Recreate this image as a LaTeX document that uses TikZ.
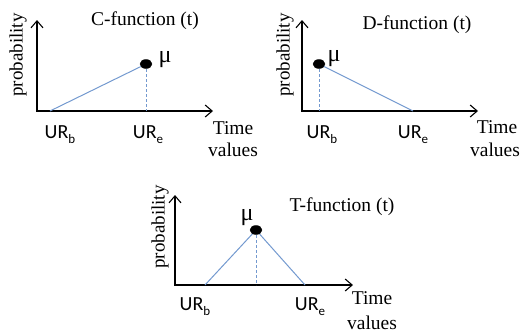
\documentclass[tikz,border=0pt]{standalone}
\usepackage{fontspec}
\setmainfont{Liberation Serif}
\newfontfamily\urfont{Carlito}
\usetikzlibrary{arrows.meta,shapes.geometric}
\definecolor{fnblue}{HTML}{7399CF}
\tikzset{
  axis/.style={line width=1.3pt,{Straight Barb[length=7pt,width=12pt,line width=1.1pt]}-{Straight Barb[length=7pt,width=12pt,line width=1.1pt]}},
  fn/.style={line width=1pt,draw=fnblue},
  drop/.style={line width=1pt,draw=fnblue,dash pattern=on 3pt off 2pt},
  peak/.style={ellipse,fill=black,draw=black,minimum width=12pt,minimum height=9pt,inner sep=0pt},
  ttl/.style={font=\fontsize{19.5}{19.5}\selectfont,inner sep=0pt},
  ylab/.style={font=\fontsize{19}{19}\selectfont,rotate=90,inner sep=0pt},
  mulab/.style={font=\fontsize{24}{24}\selectfont,inner sep=0pt},
  urlab/.style={font=\urfont\fontsize{20}{20}\selectfont,inner sep=0pt},
  tv/.style={font=\fontsize{19.5}{19.5}\selectfont,inner sep=0pt}
}
\newcommand{\urtxt}[1]{UR\raisebox{-0.25em}{\fontsize{13}{13}\selectfont #1}}
\begin{document}
\begin{tikzpicture}[x=1pt,y=-1pt]
\useasboundingbox (0,0) rectangle (520,335);
% ---------- C panel ----------
\coordinate (cO) at (37,111);
\coordinate (cY) at (37,20);
\coordinate (cX) at (213,111);
\coordinate (cB) at (50,111);
\coordinate (cF) at (146,111);
\coordinate (cPk) at (146,64);
\draw[axis] (cY) -- (cO) -- (cX);
\draw[fn] (cB) -- (cPk);
\draw[drop] (cPk) -- (cF);
\node[peak] (cP) at (cPk) {};
\node[mulab] (cmu) at (165,60) {μ};
\node[ttl] (ct) at (145,21) {C-function (t)};
\node[ylab] (cy) at (18,55) {probability};
\node[urlab] (cub) at (60,135) {\urtxt{b}};
\node[urlab] (cue) at (148,135) {\urtxt{e}};
\node[tv] (ctime) at (233,128) {Time};
\node[tv] (cval) at (233,150) {values};
% ---------- D panel ----------
\coordinate (dO) at (302,111);
\coordinate (dY) at (302,20);
\coordinate (dX) at (478,111);
\coordinate (dB) at (413,111);
\coordinate (dF) at (319,111);
\coordinate (dPk) at (319,64);
\draw[axis] (dY) -- (dO) -- (dX);
\draw[fn] (dPk) -- (dB);
\draw[drop] (dPk) -- (dF);
\node[peak] (dP) at (dPk) {};
\node[mulab] (dmu) at (334,59) {μ};
\node[ttl] (dt) at (417,25) {D-function (t)};
\node[ylab] (dy) at (285,55) {probability};
\node[urlab] (dub) at (322,135) {\urtxt{b}};
\node[urlab] (due) at (413,135) {\urtxt{e}};
\node[tv] (dtime) at (497,127) {Time};
\node[tv] (dval) at (495,150) {values};
% ---------- T panel ----------
\coordinate (tO) at (175,285);
\coordinate (tY) at (175,195);
\coordinate (tX) at (353,285);
\coordinate (tL) at (205,285);
\coordinate (tR) at (305,285);
\coordinate (tF) at (256,285);
\coordinate (tPk) at (256,230);
\draw[axis] (tY) -- (tO) -- (tX);
\draw[fn] (tL) -- (tPk) -- (tR);
\draw[drop] (tPk) -- (tF);
\node[peak] (tP) at (tPk) {};
\node[mulab] (tmu) at (247,218) {μ};
\node[ttl] (tt) at (342,207) {T-function (t)};
\node[ylab] (ty) at (160,227) {probability};
\node[urlab] (tub) at (195,307) {\urtxt{b}};
\node[urlab] (tue) at (310,307) {\urtxt{e}};
\node[tv] (ttime) at (372,298) {Time};
\node[tv] (tval) at (372,323) {values};
\end{tikzpicture}
\end{document}
